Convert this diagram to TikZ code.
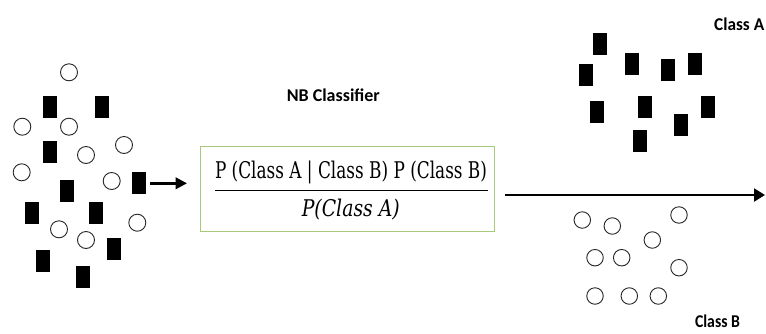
\documentclass[tikz,border=0pt]{standalone}
\usepackage{fontspec}
\usepackage{graphicx}
\newfontfamily\lblfont{Carlito}
\newfontfamily\fracfont{DejaVu Serif}
\usetikzlibrary{arrows.meta}
\definecolor{boxgreen}{HTML}{A9C97A}
\tikzset{
  rectdot/.style={fill=black, draw=none, minimum width=14pt, minimum height=22pt, inner sep=0pt},
  circdot/.style={circle, draw=black!85, line width=0.9pt, minimum size=17pt, inner sep=0pt},
  smallcirc/.style={circdot, minimum size=16.5pt},
  clslabel/.style={font=\lblfont\bfseries\fontsize{18}{20}\selectfont, inner sep=0pt},
}
\begin{document}
\begin{tikzpicture}[x=1pt,y=-1pt]
\useasboundingbox (0,0) rectangle (766,333);
% left cluster circles
\foreach \n/\x/\y in {l1/69/72.3, l2/22.3/126.7, l3/69/126.7, l4/124/145, l5/86/155, l6/21.7/172.3, l7/111.7/181, l8/59/229.3, l9/137.3/222.7, l10/86/240}
  \node[circdot] (c\n) at (\x,\y) {};
% left cluster rectangles
\foreach \n/\x/\y in {l1/50/107, l2/102.3/107, l3/50/152, l4/67.3/191, l6/31.7/213, l7/95.8/213, l8/114/249.3, l9/43/260.8, l10/82.5/277}
  \node[rectdot] (r\n) at (\x,\y) {};
\node[rectdot] (rl5) at (139,183.3) {};
% small arrow
\coordinate (sa) at (150,183.3);
\coordinate (sb) at (187,183.3);
\draw[line width=2.6pt, -{Triangle[length=11.5pt,width=11.5pt]}] (sa) -- (sb);
% title
\node[clslabel] (title) at (333.3,95) {NB Classifier};
% box
\node[draw=boxgreen, line width=1pt, minimum width=293.3pt, minimum height=85.7pt, inner sep=0pt] (box) at (347.35,188.85) {};
\node[inner sep=0pt, anchor=base] (num) at (351,178) {\resizebox{272pt}{\height}{\fracfont\fontsize{23}{26}\selectfont P (Class A | Class B) P (Class B)}};
\draw[line width=1.1pt] (215,190.7) -- (488,190.7);
\node[inner sep=0pt, anchor=base] (den) at (350.8,216.7) {\resizebox{98pt}{\height}{\fracfont\itshape\fontsize{23}{26}\selectfont P(Class A)}};
% big arrow
\coordinate (ba) at (505,195);
\coordinate (bb) at (765,195);
\draw[line width=2.2pt, -{Triangle[length=11pt,width=13pt]}] (ba) -- (bb);
% class A rectangles
\foreach \n/\x/\y in {a1/599.5/44.2, a2/586.2/75, a3/632.2/64.2, a4/667.8/69.7, a5/694.5/64.2, a6/597.2/111.8, a7/644.5/107, a8/707.8/107, a9/681/125, a10/640/141}
  \node[rectdot] (r\n) at (\x,\y) {};
\node[clslabel, anchor=base west] (classA) at (714,30) {\resizebox{50pt}{\height}{Class A}};
% class B circles
\foreach \n/\x/\y in {b1/582.3/220, b2/612.3/226, b3/679/215, b4/652.3/240, b5/595/257.7, b6/621.7/257.7, b7/679/267.7, b8/595/296, b9/629.3/296, b10/658.3/296}
  \node[smallcirc] (c\n) at (\x,\y) {};
\node[clslabel] (classB) at (717.5,321.7) {\resizebox{45pt}{\height}{Class B}};
\end{tikzpicture}
\end{document}
